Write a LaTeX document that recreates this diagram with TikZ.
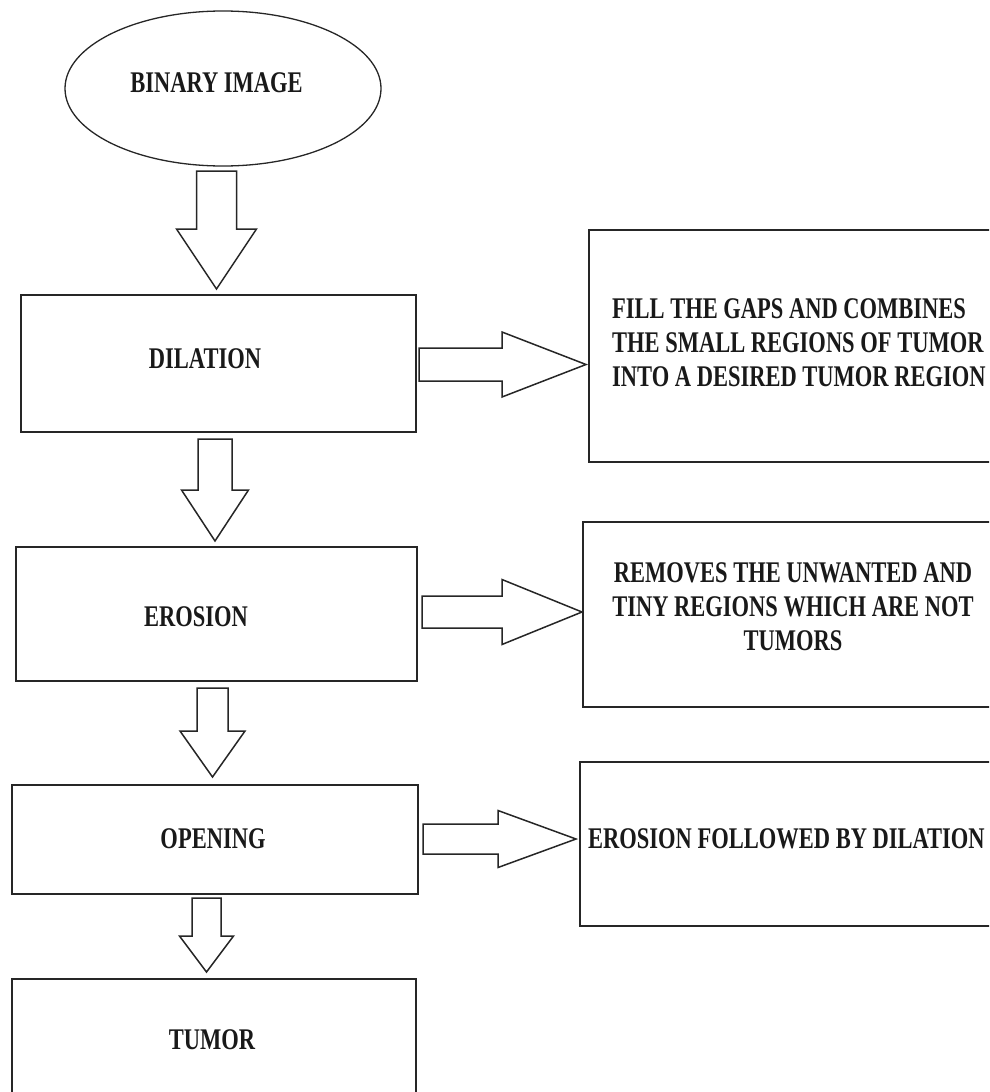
\documentclass[tikz,border=0pt]{standalone}
\usepackage{fontspec}
\usetikzlibrary{calc,shapes.geometric}
\newfontfamily\labelfont{Liberation Serif}[FakeStretch=0.75]

% vertical block arrow between two nodes:
% #1 from, #2 to, #3 x, #4 shaft half width, #5 head half width,
% #6 head length, #7 gap at tail, #8 gap at tip
\newcommand{\vblock}[8]{%
  \draw[blockarrow] let \p1=(#1.south), \p2=(#2.north) in
    (#3pt-#4pt,\y1-#7pt) -- (#3pt+#4pt,\y1-#7pt)
    -- (#3pt+#4pt,\y2+#8pt+#6pt) -- (#3pt+#5pt,\y2+#8pt+#6pt)
    -- (#3pt,\y2+#8pt)
    -- (#3pt-#5pt,\y2+#8pt+#6pt) -- (#3pt-#4pt,\y2+#8pt+#6pt) -- cycle;}

% horizontal block arrow between two nodes:
% #1 from, #2 to, #3 y, #4 shaft half width, #5 head half width,
% #6 head length, #7 gap at tail, #8 gap at tip
\newcommand{\hblock}[8]{%
  \draw[blockarrow] let \p1=(#1.east), \p2=(#2.west) in
    (\x1+#7pt,-#3pt+#4pt) -- (\x2-#8pt-#6pt,-#3pt+#4pt)
    -- (\x2-#8pt-#6pt,-#3pt+#5pt) -- (\x2-#8pt,-#3pt)
    -- (\x2-#8pt-#6pt,-#3pt-#5pt) -- (\x2-#8pt-#6pt,-#3pt-#4pt)
    -- (\x1+#7pt,-#3pt-#4pt) -- cycle;}

\begin{document}
\begin{tikzpicture}[x=1pt,y=-1pt,
  box/.style={draw=black!85, line width=1.6pt, inner sep=0pt, outer sep=0pt},
  oval/.style={ellipse, draw=black!85, line width=1.3pt, inner sep=0pt, outer sep=0pt},
  blockarrow/.style={draw=black!85, line width=1.5pt, fill=white, line join=miter},
  txt/.style={inner sep=0pt, font=\labelfont\bfseries\fontsize{30}{34}\selectfont, text=black!90}]

\useasboundingbox (0,0) rectangle (989,1092);
\clip (0,0) rectangle (989,1092);

% main chain
\node[oval, minimum width=316, minimum height=155] (bin) at (223,88.5) {};
\node[box, minimum width=395, minimum height=137] (dil) at (218.5,363.5) {};
\node[box, minimum width=401, minimum height=134] (ero) at (216.5,614) {};
\node[box, minimum width=406, minimum height=109] (ope) at (215,839.5) {};
\node[box, minimum width=404, minimum height=150] (tum) at (214,1054) {};

% explanation boxes on the right
\node[box, minimum width=420, minimum height=232] (dilnote) at (799,346) {};
\node[box, minimum width=426, minimum height=185] (eronote) at (796,614.5) {};
\node[box, minimum width=430, minimum height=164] (openote) at (795,844) {};

% labels
\node[txt] (bintxt) at (216.5,83) {BINARY IMAGE};
\node[txt] (diltxt) at (205,359) {DILATION};
\node[txt] (erotxt) at (196,617) {EROSION};
\node[txt] (opetxt) at (213,839) {OPENING};
\node[txt] (tumtxt) at (212,1040) {TUMOR};
\node[txt, align=left, anchor=west] (dilnotetxt) at (612,343)
  {FILL THE GAPS AND COMBINES\\THE SMALL REGIONS OF TUMOR\\INTO A DESIRED TUMOR REGION};
\node[txt, align=center] (eronotetxt) at (793,607)
  {REMOVES THE UNWANTED AND\\TINY REGIONS WHICH ARE NOT\\TUMORS};
\node[txt, anchor=west] (openotetxt) at (588,839) {EROSION FOLLOWED BY DILATION};

% downward block arrows
\vblock{bin}{dil}{216.5}{20}{40}{60}{5}{6}
\vblock{dil}{ero}{215}{17}{33.5}{51}{7}{6}
\vblock{ero}{ope}{212.5}{15.5}{32.5}{46}{7}{8}
\vblock{ope}{tum}{206.5}{14.5}{27}{36}{4}{7}

% side block arrows
\hblock{dil}{dilnote}{364.5}{16.5}{32.5}{84}{3}{3}
\hblock{ero}{eronote}{612}{16}{32.5}{80}{5}{1}
\hblock{ope}{openote}{839}{15}{28.5}{78}{5}{4}
\end{tikzpicture}
\end{document}
